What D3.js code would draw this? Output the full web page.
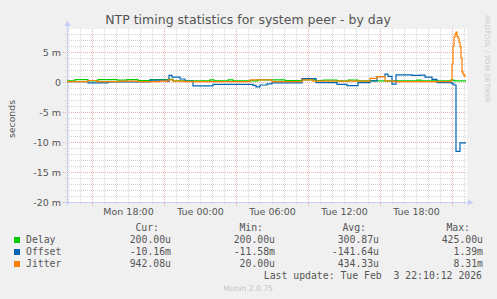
<!DOCTYPE html>
<html><head><meta charset="utf-8">
<script src="https://cdn.jsdelivr.net/npm/d3@7"></script>
<style>
html,body{margin:0;padding:0;background:#f0f0f0;}
svg{display:block;}
text{white-space:pre;}
</style></head><body>
<svg id="c" width="497" height="299"></svg>
<script>
// ---------- data ----------
const chartTitle = "NTP timing statistics for system peer - by day";
const yAxisLabel = "seconds";
const startTime = new Date(2026, 1, 2, 12, 55, 0);   // Mon
const endTime   = new Date(2026, 1, 3, 22, 15, 0);   // Tue
const sampleMinutes = 5;
const yTickValues = [-20, -15, -10, -5, 0, 5];        // milli-seconds
const yDomain = [-20, 8.83];

const seriesNames  = ["Delay", "Offset", "Jitter"];
const seriesColors = ["#00cc00", "#0066b3", "#ff8000"];

// values in milliseconds, starting at given 5-minute sample index
const delayIdx = [0, 8, 21, 31, 50, 60, 71, 83, 101, 106, 143, 147, 161, 166, 191, 218, 235, 249, 256, 270, 281, 291, 350, 354, 384, 387, 399];
const delayVal = [0.2, 0.4, 0.2, 0.4, 0.3, 0.4, 0.25, 0.4, 0.42, 0.2, 0.35, 0.2, 0.35, 0.2, 0.35, 0.25, 0.35, 0.25, 0.3, 0.2, 0.3, 0.2, 0.3, 0.2, 0.3, 0.2, 0.2];

const offsetIdx = [0, 21, 41, 83, 100, 102, 105, 113, 118, 126, 146, 186, 189, 193, 200, 205, 235, 249, 270, 280, 291, 303, 310, 318, 321, 325, 329, 345, 353, 358, 365, 370, 385, 387, 389, 393, 399];
const offsetVal = [0.05, -0.15, 0.02, 0.3, 0.1, 1.1, 0.8, 0.5, 0.15, -0.65, -0.4, -0.55, -0.8, -0.5, -0.3, -0.15, 0.55, -0.1, -0.4, -0.6, -0.1, 0.2, 0.9, 1.3, 0.95, -0.35, 1.2, 1.1, 1.15, 0.8, 0.45, -0.1, -0.3, -0.5, -11.58, -10.16, -10.16];

const jitterIdx = [0, 21, 30, 53, 70, 93, 101, 106, 118, 183, 205, 235, 246, 303, 310, 318, 328, 384, 385, 386, 387, 388, 389, 390, 391, 392, 393, 394, 395, 396, 397, 398, 399];
const jitterVal = [0.05, 0.25, 0.05, 0.15, 0.05, 0.15, 0.35, 0.15, 0.05, 0.35, 0.05, 0.35, 0.15, 0.6, 0.9, 0.15, 0.05, 0.3, 3.0, 6.0, 7.5, 8.0, 8.31, 7.6, 7.3, 6.6, 5.9, 4.0, 1.7, 1.3, 1.1, 0.94, 0.94];

const legendHeaders = ["Cur:", "Min:", "Avg:", "Max:"];
const legendCur = ["200.00u", "-10.16m", "942.08u"];
const legendMin = ["200.00u", "-11.58m", "20.00u"];
const legendAvg = ["300.87u", "-141.64u", "434.33u"];
const legendMax = ["425.00u", "1.39m", "8.31m"];
const lastUpdate = "Last update: Tue Feb  3 22:10:12 2026";
const footer = "Munin 2.0.75";
const watermark = "RRDTOOL / TOBI OETIKER";

// ---------- drawing ----------
const svg = d3.select("#c");
const W = 497, H = 299;
const plot = {left: 67, right: 467, top: 29, bottom: 202};
const textColor = "#555";

const x = d3.scaleTime().domain([startTime, endTime]).range([plot.left, plot.right]);
const y = d3.scaleLinear().domain(yDomain).range([plot.bottom, plot.top]);

svg.append("rect").attr("width", W).attr("height", H).attr("fill", "#f0f0f0");
svg.append("rect").attr("x", plot.left).attr("y", plot.top)
  .attr("width", plot.right - plot.left).attr("height", plot.bottom - plot.top).attr("fill", "#fff");

// grid
const minorColor = "#d4d4d4", majorColor = "#eab0b0";
const g = svg.append("g");
const minorY = d3.range(Math.ceil(yDomain[0]), Math.floor(yDomain[1]) + 1).filter(v => v % 5 !== 0);
g.selectAll(".hmin").data(minorY).join("line")
  .attr("x1", plot.left - 2).attr("x2", plot.right)
  .attr("y1", d => Math.round(y(d)) + 0.5).attr("y2", d => Math.round(y(d)) + 0.5)
  .attr("stroke", minorColor).attr("stroke-dasharray", "1,1");
const hours = d3.timeHour.range(startTime, endTime);
g.selectAll(".vmin").data(hours.filter(h => h.getHours() % 6 !== 3)).join("line")
  .attr("x1", d => Math.round(x(d)) + 0.5).attr("x2", d => Math.round(x(d)) + 0.5)
  .attr("y1", plot.top).attr("y2", plot.bottom + 2)
  .attr("stroke", minorColor).attr("stroke-dasharray", "1,1");
g.selectAll(".hmaj").data(yTickValues).join("line")
  .attr("x1", plot.left - 4).attr("x2", plot.right)
  .attr("y1", d => Math.round(y(d)) + 0.5).attr("y2", d => Math.round(y(d)) + 0.5)
  .attr("stroke", majorColor).attr("stroke-dasharray", "1,1");
g.selectAll(".vmaj").data(hours.filter(h => h.getHours() % 6 === 3)).join("line")
  .attr("x1", d => Math.round(x(d)) + 0.5).attr("x2", d => Math.round(x(d)) + 0.5)
  .attr("y1", plot.top).attr("y2", plot.bottom + 4)
  .attr("stroke", majorColor).attr("stroke-dasharray", "1,1");

// axes
const yAxis = d3.axisLeft(y).tickValues(yTickValues).tickSize(0).tickPadding(6)
  .tickFormat(d => d === 0 ? "0" : d + " m");
const ya = svg.append("g").attr("transform", `translate(${plot.left},0)`).call(yAxis);
ya.select(".domain").remove();
ya.selectAll("text").attr("font-family", "DejaVu Sans").attr("font-size", 9.5).attr("fill", textColor);

const labelTicks = d3.timeHour.range(startTime, endTime).filter(h => h.getHours() % 6 === 0);
const xAxis = d3.axisBottom(x).tickValues(labelTicks).tickSize(0).tickPadding(6)
  .tickFormat(d3.timeFormat("%a %H:%M"));
const xa = svg.append("g").attr("transform", `translate(0,${plot.bottom})`).call(xAxis);
xa.select(".domain").remove();
xa.selectAll("text").attr("font-family", "DejaVu Sans").attr("font-size", 9.5).attr("fill", textColor);

// axis lines and arrows
const axisColor = "#c6cdf6";
svg.append("line").attr("x1", plot.left + 0.5).attr("x2", plot.left + 0.5)
  .attr("y1", plot.bottom + 3).attr("y2", 24).attr("stroke", axisColor);
svg.append("path").attr("d", `M${plot.left - 2.5},26 L${plot.left + 3.5},26 L${plot.left + 0.5},20.5 Z`).attr("fill", axisColor);
svg.append("line").attr("x1", plot.left - 3).attr("x2", plot.right + 3)
  .attr("y1", plot.bottom + 0.5).attr("y2", plot.bottom + 0.5).attr("stroke", axisColor);
svg.append("path").attr("d", `M${plot.right + 1},${plot.bottom - 2.5} L${plot.right + 1},${plot.bottom + 3.5} L${plot.right + 6.5},${plot.bottom + 0.5} Z`).attr("fill", axisColor);

// series
function toPoints(idx, vals) {
  return idx.map((i, k) => ({t: new Date(startTime.getTime() + i * sampleMinutes * 60000), v: vals[k]}));
}
const series = [toPoints(delayIdx, delayVal), toPoints(offsetIdx, offsetVal), toPoints(jitterIdx, jitterVal)];
const line = d3.line().x(d => x(d.t)).y(d => y(d.v)).curve(d3.curveStepAfter);
svg.append("g").selectAll("path").data(series).join("path")
  .attr("d", line).attr("fill", "none")
  .attr("stroke", (d, i) => seriesColors[i]).attr("stroke-width", 1.2);

// title
svg.append("text").attr("x", 248).attr("y", 24).attr("text-anchor", "middle")
  .attr("font-family", "DejaVu Sans").attr("font-size", 12.5).attr("fill", textColor).text(chartTitle);
svg.append("text").attr("transform", "translate(15,119) rotate(-90)").attr("text-anchor", "middle")
  .attr("font-family", "DejaVu Sans").attr("font-size", 9.3).attr("fill", textColor).text(yAxisLabel);
svg.append("text").attr("transform", "translate(485,15) rotate(90)").attr("text-anchor", "start")
  .attr("font-family", "DejaVu Sans").attr("font-size", 6.8).attr("fill", "#c8c8c8").text(watermark);

// legend
const mono = "DejaVu Sans Mono";
const colEnds = [171, 275, 379, 483];
const headEnds = [159, 263, 366, 470];
const lg = svg.append("g").attr("font-family", mono).attr("font-size", 9.8).attr("fill", textColor);
legendHeaders.forEach((h, i) => lg.append("text").attr("x", headEnds[i]).attr("y", 231).attr("text-anchor", "end").text(h));
const cols = [legendCur, legendMin, legendAvg, legendMax];
seriesNames.forEach((n, r) => {
  const yy = 243 + r * 12;
  lg.append("rect").attr("x", 14).attr("y", yy - 6).attr("width", 6).attr("height", 6).attr("fill", seriesColors[r]);
  lg.append("text").attr("x", 26).attr("y", yy).text(n);
  cols.forEach((c, ci) => lg.append("text").attr("x", colEnds[ci]).attr("y", yy).attr("text-anchor", "end").text(c[r]));
});
lg.append("text").attr("x", 482).attr("y", 279).attr("text-anchor", "end").text(lastUpdate);
svg.append("text").attr("x", 248).attr("y", 291).attr("text-anchor", "middle")
  .attr("font-family", "DejaVu Sans").attr("font-size", 7.6).attr("fill", "#c4c4c4").text(footer);
</script>
</body></html>
